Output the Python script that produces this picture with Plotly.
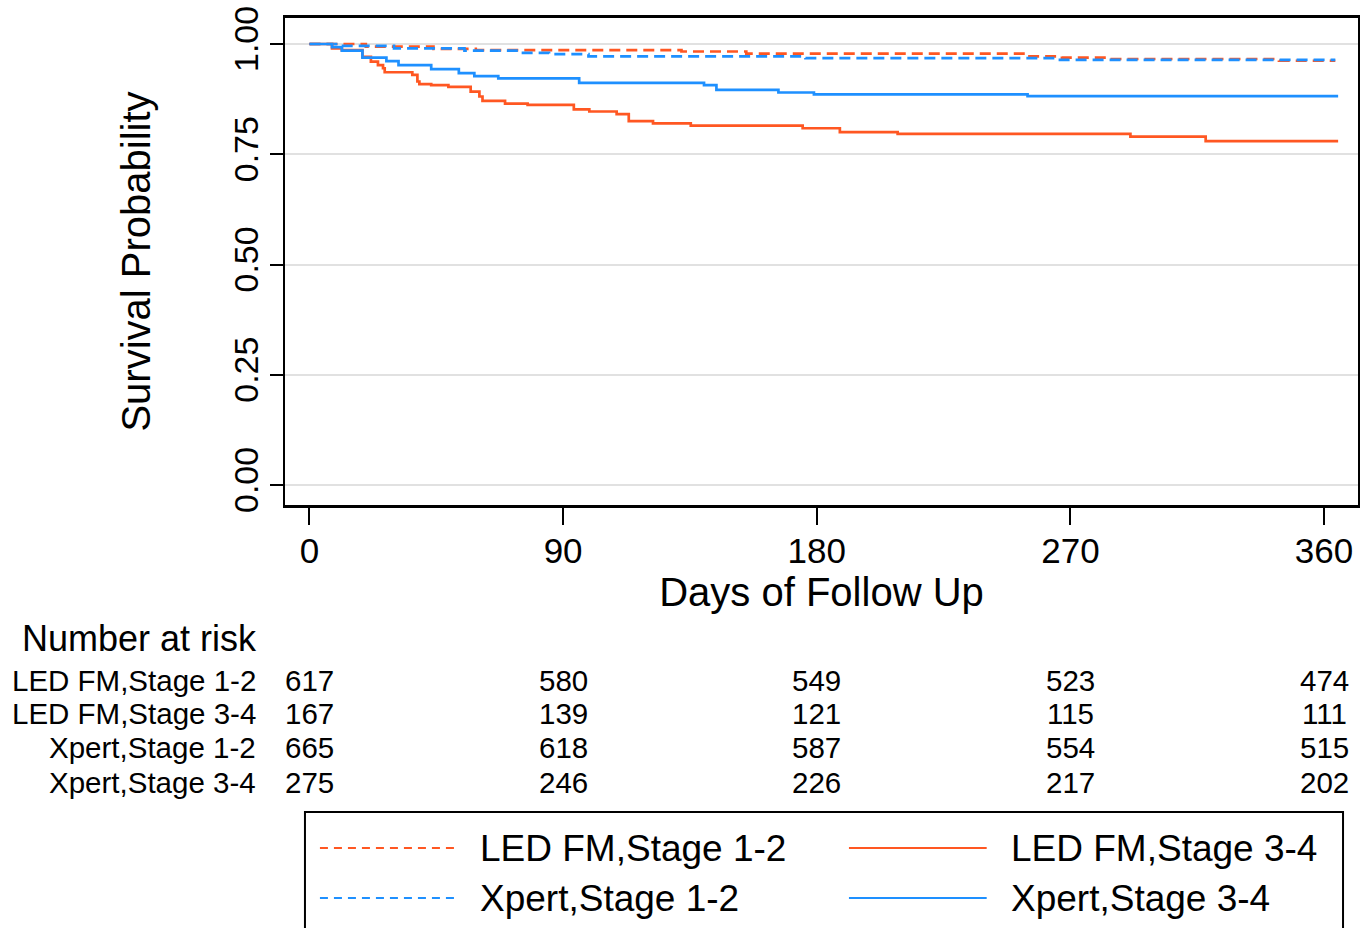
import plotly.graph_objects as go

# ---- survival step data (days, survival probability) ----
led12_t = [0, 20, 44, 59, 132, 155, 254, 267, 284, 344, 364]
led12_s = [1.0, 0.994, 0.989, 0.986, 0.983, 0.978, 0.972, 0.969, 0.966, 0.962, 0.962]

xp12_t = [0, 10, 30, 55, 75, 85, 99, 176, 265, 364]
xp12_s = [1.0, 0.996, 0.990, 0.985, 0.980, 0.977, 0.972, 0.968, 0.964, 0.964]

led34_t = [0, 8, 11.5, 18.8, 21.8, 24.3, 26.1, 26.7, 36.5, 38.3, 39, 43.2, 49.3, 57.2,
           60.3, 61.4, 69.4, 77.4, 93.8, 99.3, 109, 113.3, 121.9, 135.3, 175, 188.2,
           208.7, 291.3, 318, 365]
led34_s = [1.0, 0.990, 0.986, 0.971, 0.960, 0.952, 0.945, 0.936, 0.930, 0.915, 0.909,
           0.907, 0.903, 0.892, 0.881, 0.871, 0.865, 0.862, 0.852, 0.847, 0.841, 0.825,
           0.820, 0.815, 0.809, 0.800, 0.796, 0.790, 0.780, 0.780]

xp34_t = [0, 8, 11.5, 18.8, 27.3, 31.6, 43.2, 53, 58.5, 67, 95.7, 140, 144.4, 166.4,
          179, 254.8, 365]
xp34_s = [1.0, 0.993, 0.985, 0.969, 0.961, 0.952, 0.943, 0.934, 0.927, 0.922, 0.912,
          0.907, 0.896, 0.890, 0.886, 0.882, 0.882]

# ---- number at risk ----
risk_times = [0, 90, 180, 270, 360]
risk_labels = ["LED FM,Stage 1-2", "LED FM,Stage 3-4", "Xpert,Stage 1-2", "Xpert,Stage 3-4"]
risk_led12 = [617, 580, 549, 523, 474]
risk_led34 = [167, 139, 121, 115, 111]
risk_xp12 = [665, 618, 587, 554, 515]
risk_xp34 = [275, 246, 226, 217, 202]

y_ticks = [0, 0.25, 0.5, 0.75, 1.0]
y_ticklabels = ["0.00", "0.25", "0.50", "0.75", "1.00"]
x_ticks = [0, 90, 180, 270, 360]

RED = "rgb(255,87,34)"
BLUE = "rgb(30,144,255)"
FONT = "Liberation Sans, Arial, sans-serif"

W, H = 1363, 928
ML, MR, MT, MB = 285, 3, 18, 423
PW = W - ML - MR
PH = H - MT - MB


def py(pix):  # pixel row -> paper y
    return (H - MB - pix) / PH


def px(pix):  # pixel column -> paper x
    return (pix - ML) / PW


fig = go.Figure()
series = [
    ("LED FM,Stage 1-2", led12_t, led12_s, RED, "11px,6px"),
    ("Xpert,Stage 1-2", xp12_t, xp12_s, BLUE, "11px,6px"),
    ("LED FM,Stage 3-4", led34_t, led34_s, RED, "solid"),
    ("Xpert,Stage 3-4", xp34_t, xp34_s, BLUE, "solid"),
]
for name, t, s, c, d in series:
    fig.add_trace(go.Scatter(x=t, y=s, mode="lines", name=name,
                             line=dict(color=c, width=2.7, dash=d, shape="hv"),
                             showlegend=False))

fig.update_layout(
    width=W, height=H,
    margin=dict(l=ML, r=MR, t=MT, b=MB),
    paper_bgcolor="white", plot_bgcolor="white",
    font=dict(family=FONT, color="black"),
)
fig.update_xaxes(
    range=[-8.68, 372.05], tickvals=x_ticks, ticks="outside", ticklen=17, tickwidth=2,
    tickcolor="black", tickfont=dict(size=35), showgrid=False, zeroline=False,
    showline=True, linecolor="black", linewidth=2.5, mirror=True, ticklabelstandoff=-4,
    title=dict(text="Days of Follow Up", font=dict(size=40), standoff=0),
)
fig.update_yaxes(
    range=[-0.0454, 1.059], tickvals=y_ticks, ticktext=y_ticklabels, tickangle=-90,
    ticks="outside", ticklen=13, tickwidth=2, tickcolor="black", tickfont=dict(size=34),
    showgrid=True, gridcolor="rgb(225,225,225)", gridwidth=2, zeroline=False,
    showline=True, linecolor="black", linewidth=2, mirror=True, ticklabelstandoff=-2,
    title=dict(text="Survival Probability", font=dict(size=40), standoff=64),
)

ann = []
ann.append(dict(text="Number at risk", xref="paper", yref="paper", x=px(20), y=py(638),
                xanchor="left", yanchor="middle", showarrow=False, font=dict(size=36)))
row_pix = [680, 713, 747, 782]
rows = [risk_led12, risk_led34, risk_xp12, risk_xp34]
for lab, vals, rp in zip(risk_labels, rows, row_pix):
    ann.append(dict(text=lab, xref="paper", yref="paper", x=px(258), y=py(rp),
                    xanchor="right", yanchor="middle", showarrow=False, font=dict(size=29.5)))
    for t, v in zip(risk_times, vals):
        ann.append(dict(text=str(v), xref="x", yref="paper", x=t, y=py(rp),
                        xanchor="center", yanchor="middle", showarrow=False,
                        font=dict(size=29.5)))

# manual legend
shapes = [dict(type="rect", xref="paper", yref="paper", x0=px(305), x1=px(1345),
               y0=py(812), y1=py(940), line=dict(color="black", width=2),
               fillcolor="rgba(0,0,0,0)")]
leg = [
    ("LED FM,Stage 1-2", RED, "8px,6px", 320, 455, 478, 848),
    ("LED FM,Stage 3-4", RED, "solid", 850, 988, 1010, 848),
    ("Xpert,Stage 1-2", BLUE, "8px,6px", 320, 455, 478, 898),
    ("Xpert,Stage 3-4", BLUE, "solid", 850, 988, 1010, 898),
]
for name, c, d, l0, l1, tx, ry in leg:
    shapes.append(dict(type="line", xref="paper", yref="paper", x0=px(l0), x1=px(l1),
                       y0=py(ry), y1=py(ry), line=dict(color=c, width=2, dash=d)))
    ann.append(dict(text=name, xref="paper", yref="paper", x=px(tx), y=py(ry),
                    xanchor="left", yanchor="middle", showarrow=False, font=dict(size=37)))

fig.update_layout(annotations=ann, shapes=shapes)
fig.write_html("out.html")
